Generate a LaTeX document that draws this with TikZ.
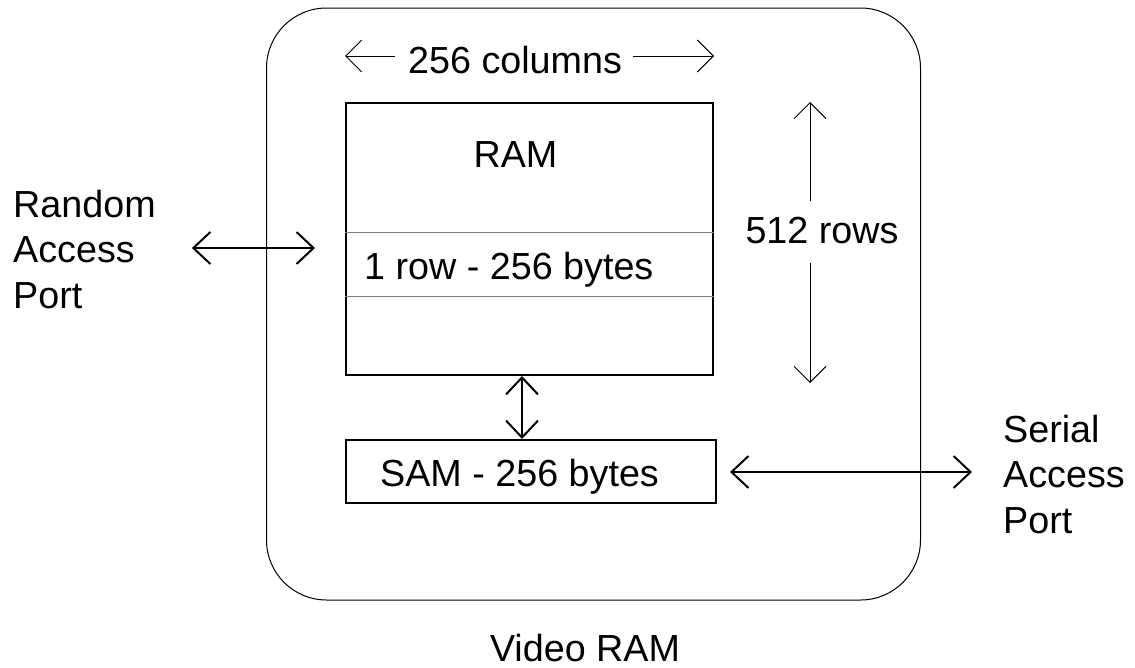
\documentclass[tikz,border=0pt]{standalone}
\usepackage{fontspec}
\setmainfont{Liberation Sans}
\usetikzlibrary{arrows.meta}
\begin{document}
\begin{tikzpicture}[x=1pt,y=-1pt,
  every node/.style={font=\fontsize{37.7}{45.5}\selectfont, inner sep=0pt},
  thinhead/.style={line width=1pt, -{Straight Barb[length=16pt,width=32pt]}},
  thickdbl/.style={line width=2pt, {Straight Barb[length=17pt,width=32pt]}-{Straight Barb[length=17pt,width=32pt]}},
  boxthick/.style={draw, line width=2pt},
  divider/.style={draw=gray, line width=1pt}
]
\useasboundingbox (0,0) rectangle (1135,667);
% outer Video RAM chip
\node[draw, line width=1pt, rounded corners=60pt, minimum width=654pt, minimum height=592pt] (vram) at (593.5,304) {};
\node[anchor=base] (vlabel) at (585,661) {Video RAM};
% RAM array
\node[boxthick, minimum width=367pt, minimum height=272pt] (ram) at (529.5,239) {};
\node[anchor=base] (ramlabel) at (515.5,167) {RAM};
\draw[divider] (ram.west |- 0,232) -- (ram.east |- 0,232);
\draw[divider] (ram.west |- 0,296) -- (ram.east |- 0,296);
\node[anchor=base west] (row) at (364,279) {1 row - 256 bytes};
% SAM
\node[boxthick, minimum width=370pt, minimum height=63pt] (sam) at (531,471.5) {};
\node[anchor=base west] (samlabel) at (380,486) {SAM - 256 bytes};
\draw[thickdbl] (ram.south -| 522,0) -- (sam.north -| 522,0);
% ports
\node[anchor=north west, align=left] (rap) at (13,189.5) {Random\\Access\\Port};
\draw[thickdbl, shorten <=36pt, shorten >=30pt] (rap.east |- 0,248) -- (ram.west |- 0,248);
\node[anchor=north west, align=left] (sap) at (1003,414.5) {Serial\\Access\\Port};
\draw[thickdbl, shorten <=13pt, shorten >=31pt] (sam.east |- 0,472) -- (sap.west |- 0,472);
% dimensions
\node[anchor=base west] (cols) at (408,73) {256 columns};
\draw[thinhead, shorten <=13pt] (cols.west |- 0,56) -- (ram.west |- 0,56);
\draw[thinhead, shorten <=11pt] (cols.east |- 0,56) -- (ram.east |- 0,56);
\node[anchor=base] (rows) at (822,243) {512 rows};
\coordinate (rowsend) at (810,383);
\draw[thinhead, shorten <=15pt] (rows.north -| 810,0) -- (ram.north -| 810,0);
\draw[thinhead, shorten <=20pt] (rows.base -| 810,0) -- (rowsend);
\end{tikzpicture}
\end{document}
